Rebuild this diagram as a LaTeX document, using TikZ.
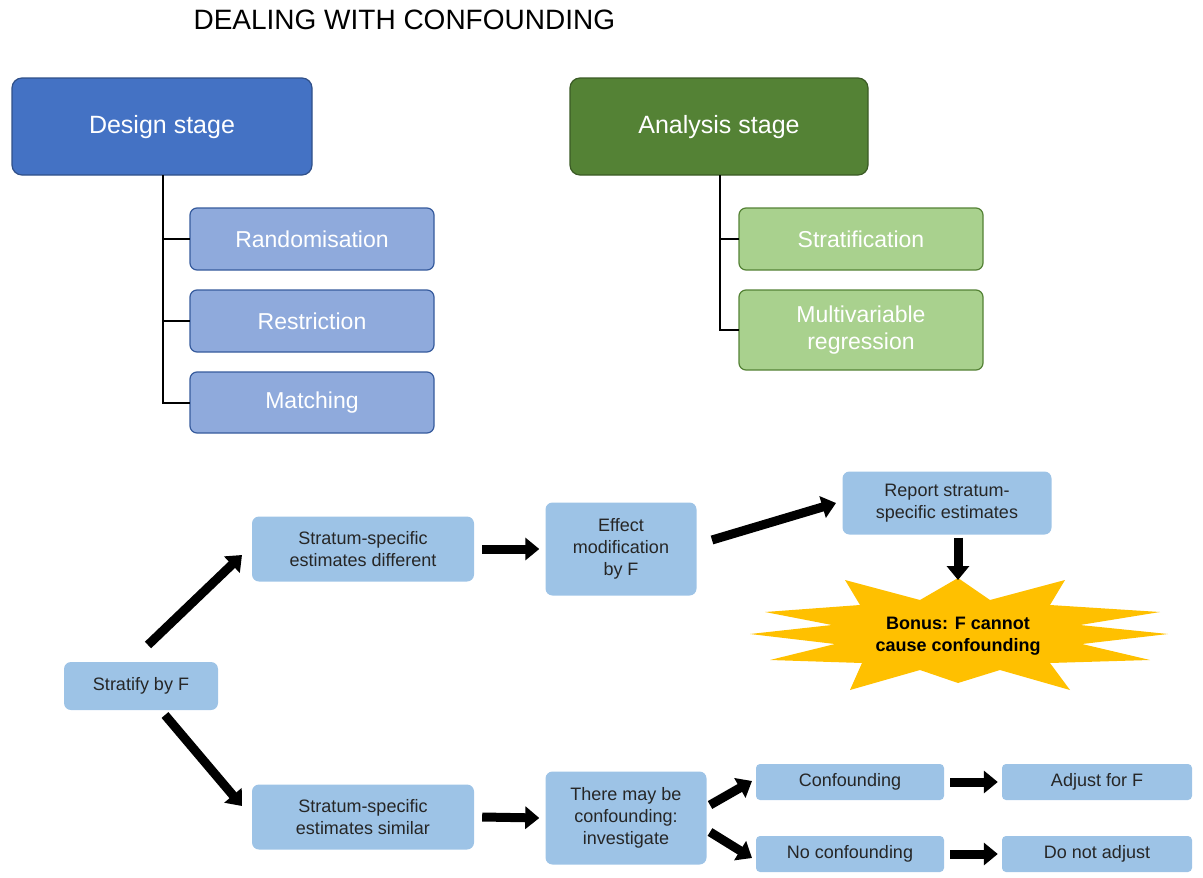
\documentclass[tikz,border=0pt]{standalone}
\usepackage{fontspec}
\setmainfont{Liberation Sans}
\usetikzlibrary{arrows.meta,calc}
\definecolor{dblue}{HTML}{4472C4}
\definecolor{lblue}{HTML}{8FAADC}
\definecolor{dgreen}{HTML}{548235}
\definecolor{lgreen}{HTML}{A9D18E}
\definecolor{sblue}{HTML}{9DC3E6}
\definecolor{gold}{HTML}{FFC000}
\begin{document}
\begin{tikzpicture}[x=1pt,y=-1pt,
  big/.style={rounded corners=10pt,draw=#1!70!black,line width=1.2pt,text=white,font=\fontsize{25}{30}\selectfont,align=center},
  sub/.style={rounded corners=7pt,line width=1.2pt,text=white,font=\fontsize{23}{27}\selectfont,align=center},
  sb/.style={rounded corners=7pt,fill=sblue,text=black!85,font=\fontsize{18}{22}\selectfont,align=center},
  tree/.style={line width=2pt},
  arr/.style={line width=9pt,-{Triangle[length=14pt,width=22pt]}}]
\useasboundingbox (0,0) rectangle (1203,878);
\node[anchor=west,font=\fontsize{28}{32}\selectfont] (title) at (190,20) {DEALING WITH CONFOUNDING};
% design
\path[big=dblue,fill=dblue] (12,78) rectangle (312,175);
\node[text=white,font=\fontsize{25}{30}\selectfont] (design) at (162,127) {Design stage};
\path[sub,fill=lblue,draw=dblue!80!black] (190,208) rectangle (434,270);
\node[text=white,font=\fontsize{23}{27}\selectfont] (rand) at (312,239) {Randomisation};
\path[sub,fill=lblue,draw=dblue!80!black] (190,290) rectangle (434,352);
\node[text=white,font=\fontsize{23}{27}\selectfont] (restr) at (312,321) {Restriction};
\path[sub,fill=lblue,draw=dblue!80!black] (190,372) rectangle (434,433);
\node[text=white,font=\fontsize{23}{27}\selectfont] (match) at (312,403) {Matching};
\draw[tree] (163,175) -- (163,403) -- (190,403);
\draw[tree] (163,239) -- (190,239);
\draw[tree] (163,321) -- (190,321);
% analysis
\path[big=dgreen,fill=dgreen] (570,78) rectangle (868,175);
\node[text=white,font=\fontsize{25}{30}\selectfont] (analysis) at (719,127) {Analysis stage};
\path[sub,fill=lgreen,draw=dgreen] (739,208) rectangle (983,270);
\node[text=white,font=\fontsize{23}{27}\selectfont] (strat) at (861,239) {Stratification};
\path[sub,fill=lgreen,draw=dgreen] (739,290) rectangle (983,370);
\node[text=white,font=\fontsize{23}{27}\selectfont,align=center] (multi) at (861,330) {Multivariable\\regression};
\draw[tree] (720,175) -- (720,330) -- (739,330);
\draw[tree] (720,239) -- (739,239);
% bottom
\node[sb,minimum width=154pt,minimum height=48pt] (sf) at (141,686) {Stratify by F};
\node[sb,minimum width=222pt,minimum height=65pt] (diff) at (363,549) {Stratum-specific\\estimates different};
\node[sb,minimum width=151pt,minimum height=93pt] (em) at (621,549) {Effect\\modification\\by F};
\node[sb,minimum width=209pt,minimum height=63pt] (rep) at (947,503) {Report stratum-\\specific estimates};
\node[sb,minimum width=222pt,minimum height=65pt] (sim) at (363,817) {Stratum-specific\\estimates similar};
\node[sb,minimum width=161pt,minimum height=93pt] (inv) at (626,818) {There may be\\confounding:\\investigate};
\node[sb,rounded corners=4pt,minimum width=188pt,minimum height=36pt] (conf) at (850,782) {Confounding};
\node[sb,rounded corners=4pt,minimum width=188pt,minimum height=36pt] (noconf) at (850,854) {No confounding};
\node[sb,rounded corners=4pt,minimum width=190pt,minimum height=36pt] (adj) at (1097,782) {Adjust for F};
\node[sb,rounded corners=4pt,minimum width=190pt,minimum height=36pt] (noadj) at (1097,854) {Do not adjust};
% starburst
\fill[gold] (958,578) -- (990,600) -- (1065,580) -- (1050,605) -- (1160,612) -- (1080,625) -- (1168,634) -- (1082,644) -- (1150,660) -- (1050,663) -- (1070,690) -- (1000,670) -- (958,683) -- (920,670) -- (850,690) -- (862,663) -- (770,660) -- (835,644) -- (750,634) -- (832,625) -- (765,612) -- (860,605) -- (845,580) -- (920,600) -- cycle;
\node[font=\bfseries\fontsize{18}{22}\selectfont,align=center] (bonus) at (958,636) {Bonus: F cannot\\cause confounding};
% arrows
\coordinate (a1) at (148,645); \coordinate (a1e) at (242,555);
\draw[arr] (a1) -- (a1e);
\coordinate (a2) at (165,715); \coordinate (a2e) at (242,806);
\draw[arr] (a2) -- (a2e);
\draw[arr] ($(diff.east)+(8,0)$) -- ($(em.west)+(-6,0)$);
\draw[arr] ($(sim.east)+(8,0)$) -- ($(inv.west)+(-6,0)$);
\coordinate (a5) at (712,540); \coordinate (a5e) at (836,503);
\draw[arr] (a5) -- (a5e);
\draw[arr] ($(rep.south)+(11,3)$) -- (958,580);
\coordinate (a7) at (710,805); \coordinate (a7e) at (752,781);
\draw[arr] (a7) -- (a7e);
\coordinate (a8) at (710,832); \coordinate (a8e) at (752,858);
\draw[arr] (a8) -- (a8e);
\draw[arr] ($(conf.east)+(6,0)$) -- ($(adj.west)+(-4,0)$);
\draw[arr] ($(noconf.east)+(6,0)$) -- ($(noadj.west)+(-4,0)$);
\end{tikzpicture}
\end{document}
